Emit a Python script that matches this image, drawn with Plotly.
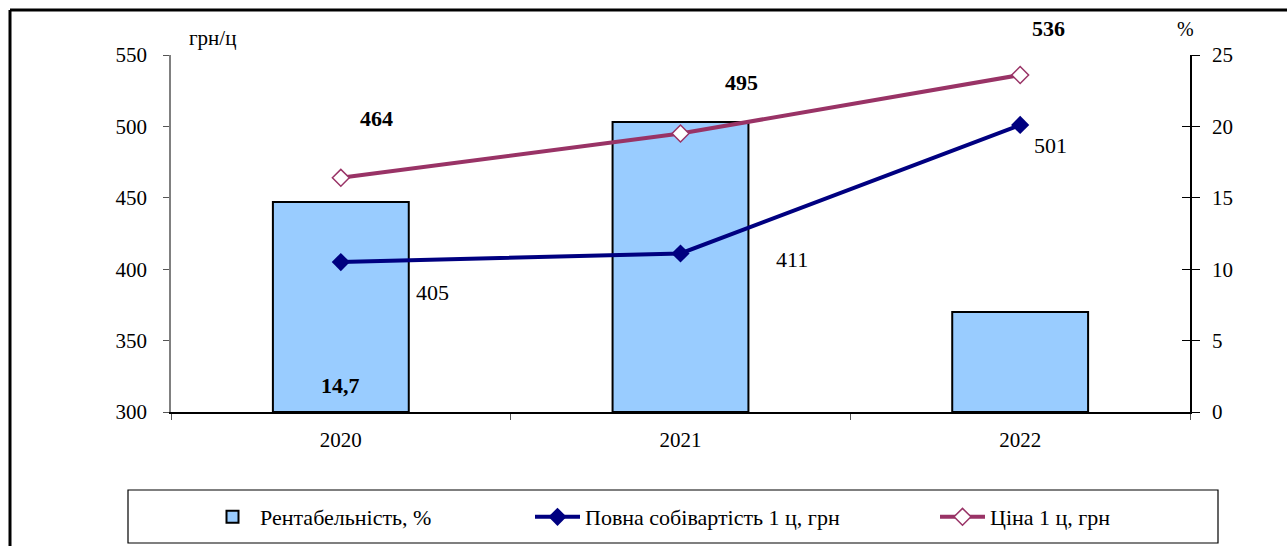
import plotly.graph_objects as go

# ---- data ----
years = ["2020", "2021", "2022"]
profitability = [14.7, 20.3, 7.0]      # Рентабельність, %
cost = [405, 411, 501]                 # Повна собівартість 1 ц, грн
price = [464, 495, 536]                # Ціна 1 ц, грн
bar_label_idx = [0]                    # only the first bar carries a label

FONT = "Liberation Serif"
xpos = list(range(len(years)))

def px_x(px):
    return (px - 171) / 1019

def px_y(py):
    return (412 - py) / 357

fig = go.Figure()

fig.add_trace(go.Bar(
    x=xpos, y=profitability, name="Рентабельність, %",
    marker=dict(color="#99CCFF", line=dict(color="black", width=2)),
    width=0.4, yaxis="y", xaxis="x", legend="legend",
))
# invisible helper on the right-hand tick overlay (gives the crossing ticks)
fig.add_trace(go.Scatter(
    x=xpos, y=profitability, mode="markers", marker=dict(opacity=0),
    yaxis="y3", xaxis="x", showlegend=False, hoverinfo="skip",
))
fig.add_trace(go.Scatter(
    x=xpos, y=cost, name="Повна собівартість 1 ц, грн", mode="lines+markers",
    line=dict(color="#000080", width=4),
    marker=dict(symbol="diamond", size=14, color="#000080"),
    yaxis="y2", xaxis="x", legend="legend2",
))
fig.add_trace(go.Scatter(
    x=xpos, y=price, name="Ціна 1 ц, грн", mode="lines+markers",
    line=dict(color="#993366", width=4),
    marker=dict(symbol="diamond", size=13, color="white",
                line=dict(color="#993366", width=1.5)),
    yaxis="y2", xaxis="x", legend="legend3",
))

ann = []
price_shift = [(36, 59), (61, 51), (28, 46)]
for i, v in enumerate(price):
    ann.append(dict(x=xpos[i], y=v, xref="x", yref="y2", text=f"<b>{v}</b>",
                    showarrow=False, xshift=price_shift[i][0], yshift=price_shift[i][1],
                    font=dict(family=FONT, size=22, color="black")))
cost_shift = [(92, -30), (111, -6), (30, -21)]
for i, v in enumerate(cost):
    ann.append(dict(x=xpos[i], y=v, xref="x", yref="y2", text=f"{v}",
                    showarrow=False, xshift=cost_shift[i][0], yshift=cost_shift[i][1],
                    font=dict(family=FONT, size=22, color="black")))
for i in bar_label_idx:
    ann.append(dict(x=xpos[i], y=0, xref="x", yref="y",
                    text="<b>" + f"{profitability[i]}".replace(".", ",") + "</b>",
                    showarrow=False, yshift=27,
                    font=dict(family=FONT, size=22, color="black")))
ann.append(dict(x=px_x(212), y=px_y(38), xref="paper", yref="paper", text="грн/ц",
                xanchor="center", yanchor="middle",
                showarrow=False, font=dict(family=FONT, size=21, color="black")))
ann.append(dict(x=px_x(1185), y=px_y(29), xref="paper", yref="paper", text="%",
                xanchor="center", yanchor="middle",
                showarrow=False, font=dict(family=FONT, size=20, color="black")))

shapes = [
    dict(type="line", xref="paper", yref="paper", x0=px_x(10), x1=px_x(1300), y0=px_y(10), y1=px_y(10),
         line=dict(color="black", width=3)),
    dict(type="line", xref="paper", yref="paper", x0=px_x(10), x1=px_x(10), y0=px_y(10), y1=px_y(560),
         line=dict(color="black", width=3)),
    dict(type="rect", xref="paper", yref="paper", x0=px_x(128), x1=px_x(1218),
         y0=px_y(543), y1=px_y(490), line=dict(color="black", width=1.2),
         fillcolor="rgba(0,0,0,0)"),
]

leg_common = dict(orientation="h", yanchor="middle", y=px_y(517), xanchor="left",
                  bgcolor="rgba(0,0,0,0)", borderwidth=0,
                  font=dict(family=FONT, size=22, color="black"), itemwidth=45)

bounds = [i - 0.5 for i in range(len(years) + 1)]

fig.update_layout(
    width=1287, height=546,
    margin=dict(l=171, r=97, t=55, b=134, autoexpand=False),
    paper_bgcolor="white", plot_bgcolor="white",
    font=dict(family=FONT, size=21, color="black"),
    showlegend=True,
    xaxis=dict(
        range=[-0.5, len(years) - 0.5], showline=True, linecolor="black", linewidth=1.5,
        tickmode="array", tickvals=xpos, ticktext=years, ticks="",
        minor=dict(tickmode="array", tickvals=bounds, ticks="outside", ticklen=6,
                   tickcolor="#555555", showgrid=False),
        showgrid=False, zeroline=False, tickfont=dict(family=FONT, size=21),
        ticklabelstandoff=8,
        anchor="y", domain=[0, 1], tickangle=0, fixedrange=True,
    ),
    yaxis=dict(
        side="right", range=[0, 25], dtick=5, showline=True, linecolor="black", linewidth=1.5,
        ticks="outside", ticklen=8, tickcolor="black", showgrid=False, zeroline=False,
        tickfont=dict(family=FONT, size=21), ticklabelstandoff=8,
        anchor="x", domain=[0, 1],
    ),
    yaxis3=dict(
        overlaying="y", side="right", range=[0, 25], dtick=5, showline=False,
        ticks="inside", ticklen=8, tickcolor="black", showticklabels=False,
        showgrid=False, zeroline=False, anchor="x",
    ),
    yaxis2=dict(
        overlaying="y", side="left", range=[300, 550], dtick=50, showline=True,
        linecolor="#808080", linewidth=1.5, ticks="outside", ticklen=6, tickcolor="#555555",
        showgrid=False, zeroline=False, tickfont=dict(family=FONT, size=21),
        ticklabelstandoff=12, anchor="x",
    ),
    legend=dict(leg_common, x=px_x(205)),
    legend2=dict(leg_common, x=px_x(530)),
    legend3=dict(leg_common, x=px_x(935)),
    annotations=ann, shapes=shapes,
)

fig.write_html("out.html", config=dict(displayModeBar=False),
               post_script="document.body.style.margin='0px';")
